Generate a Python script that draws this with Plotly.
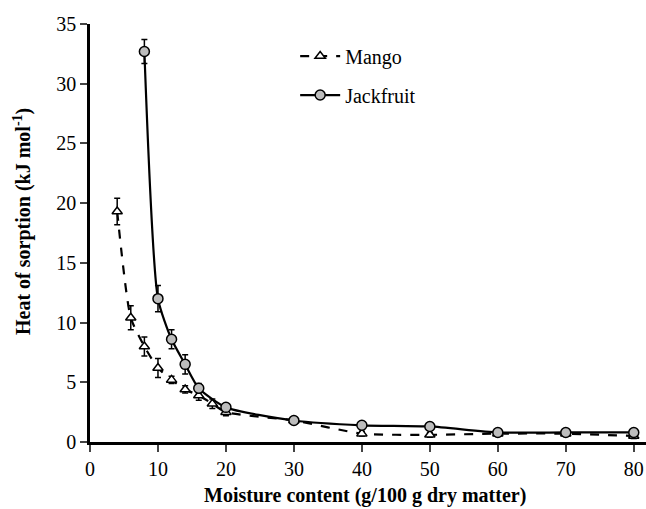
import plotly.graph_objects as go

mango_x = [4, 6, 8, 10, 12, 14, 16, 18, 20, 30, 40, 50, 60, 70, 80]
mango_y = [19.3, 10.4, 8.0, 6.2, 5.2, 4.4, 3.9, 3.2, 2.5, 1.8, 0.7, 0.6, 0.7, 0.7, 0.5]
mango_err = [1.1, 1.0, 0.8, 0.8, 0.3, 0.3, 0.4, 0.4, 0.3, 0.2, 0.2, 0.2, 0.2, 0.2, 0.2]

jack_x = [8, 10, 12, 14, 16, 20, 30, 40, 50, 60, 70, 80]
jack_y = [32.7, 12.0, 8.6, 6.5, 4.5, 2.9, 1.8, 1.4, 1.3, 0.8, 0.8, 0.8]
jack_err = [1.0, 1.1, 0.8, 0.8, 0.4, 0.2, 0.2, 0.2, 0.2, 0.2, 0.2, 0.2]

x_ticks = [0, 10, 20, 30, 40, 50, 60, 70, 80]
y_ticks = [0, 5, 10, 15, 20, 25, 30, 35]

FONT = "Liberation Serif"

fig = go.Figure()
fig.add_trace(go.Scatter(
    x=mango_x, y=mango_y, name="Mango", mode="lines+markers",
    legendgroup="m",
    line=dict(color="black", width=2.2, dash="dash", shape="spline", smoothing=0.6),
    marker=dict(symbol="triangle-up", size=9, color="white", line=dict(color="black", width=1.5)),
    error_y=dict(type="data", array=mango_err, color="black", thickness=1.5, width=3),
))
fig.add_trace(go.Scatter(
    x=jack_x, y=jack_y, name="Jackfruit", mode="lines+markers",
    legendgroup="j",
    line=dict(color="black", width=2.2, shape="spline", smoothing=0.6),
    marker=dict(symbol="circle", size=10, color="#bdbdbd", line=dict(color="black", width=1.5)),
    error_y=dict(type="data", array=jack_err, color="black", thickness=1.5, width=3),
))

fig.update_layout(
    width=646, height=509,
    margin=dict(l=90, r=0, t=24, b=67),
    paper_bgcolor="white", plot_bgcolor="white",
    font=dict(family=FONT, color="black", size=20),
    showlegend=True,
    legend=dict(x=0.369, y=0.97, xanchor="left", yanchor="top",
                bgcolor="rgba(0,0,0,0)", font=dict(size=20, family=FONT),
                traceorder="grouped", tracegroupgap=10, itemwidth=40),
    xaxis=dict(range=[0, 81.8], tickvals=x_ticks, ticks="outside", ticklen=7, tickwidth=2,
               showline=True, linecolor="black", linewidth=2.5, showgrid=False, zeroline=False,
               tickfont=dict(size=20, family=FONT)),
    yaxis=dict(range=[0, 35], tickvals=y_ticks, ticks="outside", ticklen=7, tickwidth=2,
               showline=True, linecolor="black", linewidth=2.5, showgrid=False, zeroline=False,
               tickfont=dict(size=20, family=FONT)),
    annotations=[
        dict(text="<b>Moisture content (g/100 g dry matter)</b>", xref="paper", yref="paper",
             x=(365 - 90) / 556, y=-(495 - 442) / 418, xanchor="center", yanchor="middle",
             showarrow=False, font=dict(size=20, family=FONT)),
        dict(text="<b>Heat of sorption (kJ mol<sup>-1</sup>)</b>", xref="paper", yref="paper",
             x=-(90 - 22) / 556, y=(442 - 222) / 418, xanchor="center", yanchor="middle",
             showarrow=False, textangle=-90, font=dict(size=20, family=FONT)),
    ],
)

fig.write_html("out.html")
